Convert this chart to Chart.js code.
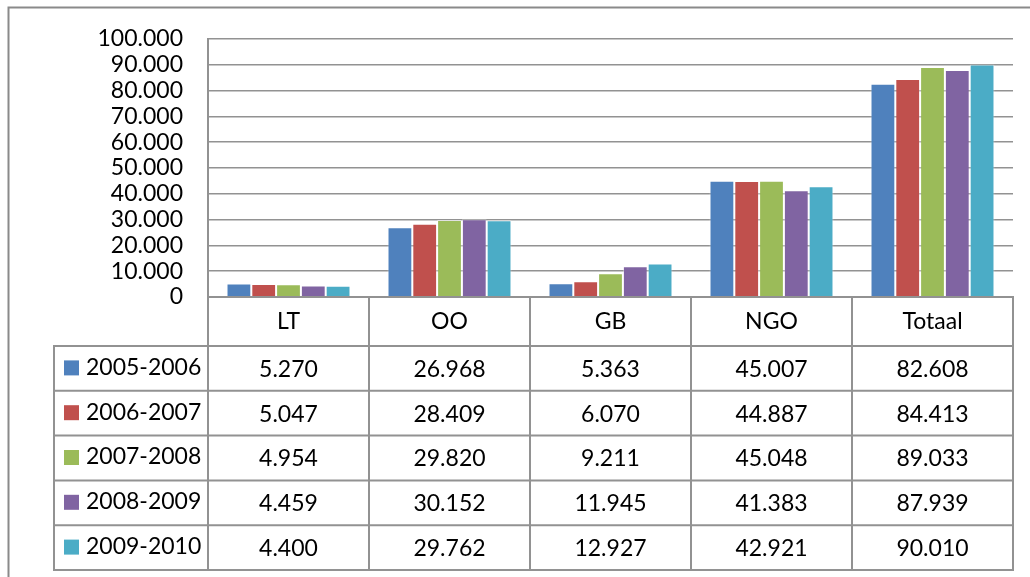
<!DOCTYPE html>
<html>
<head>
<meta charset="utf-8">
<script src="https://cdn.jsdelivr.net/npm/chart.js@4/dist/chart.umd.min.js"></script>
<style>
  html, body { margin: 0; padding: 0; background: #fff; }
  #wrap { width: 1030px; height: 577px; }
</style>
</head>
<body>
<div id="wrap"><canvas id="chart_students" width="1030" height="577"></canvas></div>
<script>
// categories and school years
var categories = ['LT', 'OO', 'GB', 'NGO', 'Totaal'];
var seasons = ['2005-2006', '2006-2007', '2007-2008', '2008-2009', '2009-2010'];

// values per school year (same order as categories)
var y2005 = [5270, 26968, 5363, 45007, 82608];
var y2006 = [5047, 28409, 6070, 44887, 84413];
var y2007 = [4954, 29820, 9211, 45048, 89033];
var y2008 = [4459, 30152, 11945, 41383, 87939];
var y2009 = [4400, 29762, 12927, 42921, 90010];

// y axis ticks
var yMin = 0;
var yMax = 100000;
var yStep = 10000;

var colors = ['#4F81BD', '#C0504D', '#9BBB59', '#8064A2', '#4BACC6'];
var lineGray = '#929292';

// 100000 -> "100.000"
function fmt(v) {
  return String(v).replace(/\B(?=(\d{3})+(?!\d))/g, '.');
}

var seriesValues = [y2005, y2006, y2007, y2008, y2009];

var datasets = seasons.map(function(s, i) {
  return {
    label: s,
    data: seriesValues[i],
    backgroundColor: colors[i],
    borderColor: 'rgba(255, 255, 255, 0.45)',
    borderWidth: 1,
    categoryPercentage: 0.77,
    barPercentage: 1.0
  };
});

/**
 * draws the outer frame and the data table under the plot,
 * columns follow the x scale
 */
var dataTablePlugin = {
  id: 'dataTable',
  afterDraw: function(chart) {
    var ctx = chart.ctx;
    var area = chart.chartArea;
    var xs = chart.scales.x;
    var colW = (area.right - area.left) / categories.length;
    var headTop = area.bottom;
    var headBottom = 346;
    var rowH = 44.8;
    var legendLeft = 54;
    var tableBottom = headBottom + rowH * seasons.length;

    ctx.save();

    // chart frame (right and bottom edges are outside the picture)
    ctx.strokeStyle = '#8a8a8a';
    ctx.lineWidth = 2;
    ctx.beginPath();
    ctx.moveTo(8.5, 577);
    ctx.lineTo(8.5, 7.5);
    ctx.lineTo(1030, 7.5);
    ctx.stroke();

    ctx.strokeStyle = lineGray;
    ctx.lineWidth = 2;

    // header row
    ctx.strokeRect(area.left, headTop, area.right - area.left, headBottom - headTop);
    // body
    ctx.strokeRect(legendLeft, headBottom, area.right - legendLeft, tableBottom - headBottom);

    ctx.beginPath();
    for (var r = 1; r < seasons.length; r++) {
      var ry = headBottom + r * rowH;
      ctx.moveTo(legendLeft, ry);
      ctx.lineTo(area.right, ry);
    }
    ctx.moveTo(area.left, headBottom);
    ctx.lineTo(area.left, tableBottom);
    for (var c = 1; c < categories.length; c++) {
      var cx = xs.getPixelForValue(c) - colW / 2;
      ctx.moveTo(cx, headTop);
      ctx.lineTo(cx, tableBottom);
    }
    ctx.stroke();

    ctx.fillStyle = '#000';
    ctx.font = '23px Lato';
    ctx.textBaseline = 'middle';
    ctx.textAlign = 'center';

    categories.forEach(function(cat, i) {
      ctx.fillText(cat, xs.getPixelForValue(i), (headTop + headBottom) / 2);
    });

    seasons.forEach(function(s, r) {
      var mid = headBottom + r * rowH + rowH / 2;
      // legend key
      ctx.fillStyle = colors[r];
      ctx.fillRect(64, mid - 8, 15, 15);
      ctx.fillStyle = '#000';
      ctx.textAlign = 'left';
      ctx.fillText(s, 86, mid - 1);
      ctx.textAlign = 'center';
      seriesValues[r].forEach(function(v, i) {
        ctx.fillText(fmt(v), xs.getPixelForValue(i), mid + 1);
      });
    });

    ctx.restore();
  }
};

Chart.defaults.font.family = 'Lato';
Chart.defaults.font.size = 23;
Chart.defaults.color = '#000';

var ctx = document.getElementById('chart_students').getContext('2d');
new Chart(ctx, {
  type: 'bar',
  data: {
    labels: categories,
    datasets: datasets
  },
  options: {
    responsive: false,
    animation: false,
    layout: {
      padding: { left: 0, top: 37, right: 17, bottom: 280 }
    },
    plugins: {
      legend: { display: false },
      tooltip: { enabled: false }
    },
    scales: {
      x: {
        display: false
      },
      y: {
        min: yMin,
        max: yMax,
        afterFit: function(scale) { scale.width = 208; },
        ticks: {
          stepSize: yStep,
          autoSkip: false,
          padding: 25,
          callback: function(v) { return fmt(v); }
        },
        grid: {
          color: lineGray,
          lineWidth: 1.5,
          drawTicks: false
        },
        border: {
          display: true,
          color: lineGray,
          width: 2
        }
      }
    }
  },
  plugins: [dataTablePlugin]
});
</script>
</body>
</html>
